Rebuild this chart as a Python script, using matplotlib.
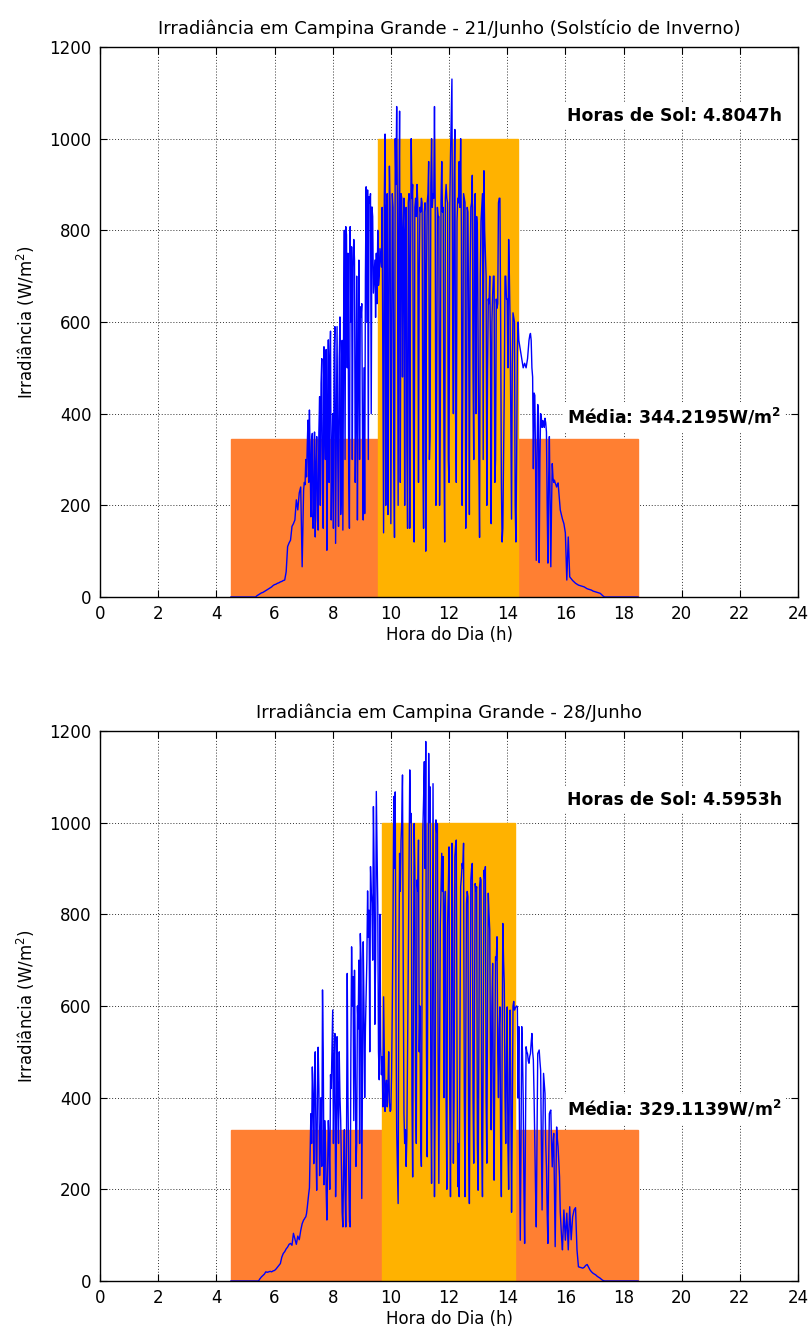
import numpy as np
import matplotlib
matplotlib.use("Agg")
import matplotlib.pyplot as plt
from matplotlib.patches import Rectangle

plt.rcParams['font.family'] = ['DejaVu Sans']

# Logger sampling blocks: (first hour, step in hours, number of samples)
blocos_amostragem = [(4.50, 0.05, 50), (7.00, 0.025, 361), (16.05, 0.05, 50)]

# Irradiance on 21/Jun (W/m^2): early block, daytime block, late block
irr_jun21 = [
    # 4.50 - 6.95 h
    0, 0, 0, 0, 0, 0, 0, 0, 0, 0, 0, 0, 0, 0, 0, 0, 0, 0,
    3, 5, 7, 9, 10, 12, 14, 16, 18, 20, 22, 25, 27, 28, 30, 31, 33, 34, 36, 37,
    55, 110, 118, 124, 154, 160, 168, 212, 190, 227, 240, 66,
    # 7.000 - 16.000 h
    234, 250, 245, 300, 262, 330, 386, 250, 408, 300, 175, 340, 357, 150, 200, 360, 131, 280, 350, 170,
    146, 360, 437, 200, 466, 520, 227, 150, 546, 380, 300, 540, 102, 400, 561, 250, 517, 580, 168, 300,
    400, 150, 531, 590, 117, 350, 590, 300, 154, 520, 611, 180, 240, 560, 146, 600, 800, 300, 808, 790,
    500, 750, 284, 150, 808, 600, 764, 300, 720, 780, 735, 250, 400, 700, 168, 500, 735, 300, 633, 610,
    640, 350, 168, 500, 182, 700, 895, 600, 888, 300, 873, 860, 880, 400, 851, 830, 663, 700, 735, 610,
    750, 640, 800, 680, 700, 760, 740, 720, 850, 500, 140, 870, 1010, 200, 850, 880, 180, 600, 940, 850,
    160, 500, 880, 850, 300, 130, 1000, 900, 1070, 850, 200, 800, 1060, 250, 880, 870, 480, 800, 870, 200,
    800, 850, 330, 150, 860, 880, 150, 700, 1000, 870, 900, 400, 120, 850, 870, 830, 900, 860, 250, 700,
    850, 840, 870, 860, 300, 150, 840, 860, 100, 700, 860, 880, 950, 300, 350, 900, 1000, 850, 880, 870,
    1070, 850, 200, 450, 850, 830, 830, 200, 400, 860, 950, 840, 850, 330, 120, 870, 900, 870, 860, 300,
    250, 850, 960, 1050, 1130, 600, 400, 900, 1020, 400, 250, 820, 870, 860, 950, 850, 1000, 800, 200, 500,
    880, 870, 860, 150, 330, 850, 840, 600, 180, 700, 850, 860, 920, 500, 300, 850, 880, 400, 830, 800,
    550, 300, 130, 700, 820, 850, 880, 300, 930, 800, 750, 700, 200, 500, 650, 640, 700, 550, 160, 600,
    660, 700, 700, 250, 300, 650, 630, 640, 860, 870, 870, 600, 250, 120, 150, 300, 450, 700, 700, 650,
    650, 500, 780, 700, 600, 400, 170, 500, 620, 610, 600, 200, 120, 300, 540, 600, 560, 550, 540, 530,
    520, 510, 500, 505, 510, 505, 500, 510, 520, 540, 560, 570, 575, 560, 500, 480, 280, 445, 440, 300,
    80, 300, 420, 400, 75, 300, 400, 390, 370, 385, 380, 370, 390, 380, 360, 200, 74, 250, 350, 200,
    66, 200, 291, 260, 250, 255, 249, 245, 240, 245, 249, 230, 210, 190, 183, 175, 170, 165, 160, 150,
    140,
    # 16.05 - 18.50 h
    37, 131, 44, 40, 36, 33, 30, 28, 26, 25, 24, 23, 22, 20, 18, 17, 16, 15, 13, 12,
    11, 10, 9, 8, 5, 2,
    0, 0, 0, 0, 0, 0, 0, 0, 0, 0, 0, 0, 0, 0, 0, 0, 0, 0, 0, 0, 0, 0, 0, 0,
]

# Irradiance on 28/Jun (W/m^2), same sampling blocks
irr_jun28 = [
    # 4.50 - 6.95 h
    0, 0, 0, 0, 0, 0, 0, 0, 0, 0, 0, 0, 0, 0, 0, 0, 0, 0, 0, 0,
    5, 9, 12, 15, 20, 19, 20, 21, 20, 22, 23, 26, 30, 34, 38, 52, 60, 64, 70, 74,
    80, 82, 78, 104, 92, 80, 98, 90, 110, 125,
    # 7.000 - 16.000 h
    133, 135, 138, 140, 147, 160, 176, 190, 203, 280, 365, 300, 467, 400, 256, 450, 500, 300, 198, 400,
    510, 420, 230, 300, 400, 250, 635, 500, 210, 350, 300, 200, 133, 250, 350, 300, 200, 450, 420, 500,
    591, 300, 480, 540, 184, 300, 533, 400, 300, 500, 402, 350, 250, 150, 118, 250, 330, 200, 118, 300,
    671, 400, 250, 130, 118, 500, 729, 600, 664, 350, 678, 500, 250, 300, 600, 550, 700, 300, 758, 700,
    180, 450, 740, 600, 400, 550, 627, 700, 851, 750, 809, 500, 904, 850, 824, 700, 1035, 900, 560, 700,
    1068, 950, 817, 500, 439, 800, 511, 450, 489, 380, 620, 500, 370, 420, 438, 380, 420, 500, 390, 370,
    373, 450, 598, 800, 1057, 900, 1067, 600, 330, 250, 169, 700, 933, 850, 962, 1000, 1104, 700, 366, 300,
    330, 250, 315, 500, 700, 900, 1115, 1000, 1020, 400, 227, 600, 998, 900, 402, 300, 875, 850, 962, 500,
    600, 300, 250, 700, 984, 1050, 1133, 900, 1177, 500, 271, 800, 1151, 1000, 1078, 400, 213, 600, 1085, 600,
    184, 400, 1006, 980, 998, 500, 213, 500, 773, 850, 933, 850, 926, 400, 788, 850, 400, 200, 773, 850,
    947, 400, 184, 500, 955, 800, 257, 400, 926, 950, 962, 500, 206, 300, 184, 500, 860, 880, 911, 900,
    955, 400, 184, 500, 824, 850, 838, 300, 169, 500, 875, 900, 911, 400, 257, 600, 867, 850, 860, 300,
    198, 500, 860, 880, 875, 300, 184, 500, 896, 880, 904, 400, 257, 600, 846, 800, 766, 500, 330, 600,
    693, 400, 220, 500, 707, 700, 751, 500, 400, 550, 598, 300, 184, 500, 780, 700, 649, 400, 300, 500,
    598, 300, 200, 450, 591, 400, 150, 350, 600, 610, 591, 595, 598, 600, 598, 400, 555, 300, 89, 300,
    555, 500, 400, 200, 82, 300, 511, 500, 496, 480, 475, 490, 496, 520, 540, 500, 482, 400, 300, 200,
    118, 300, 496, 500, 504, 480, 460, 300, 155, 300, 453, 430, 409, 300, 250, 150, 82, 250, 365, 370,
    373, 300, 249, 300, 322, 200, 75, 200, 336, 310, 293, 260, 227, 150, 120, 90, 68, 110, 155, 120,
    89,
    # 16.05 - 18.50 h
    148, 68, 162, 90, 140, 155, 160, 68, 31, 30, 29, 28, 30, 34, 36, 30, 24, 20, 17, 15,
    13, 10, 8, 6, 3, 1,
    0, 0, 0, 0, 0, 0, 0, 0, 0, 0, 0, 0, 0, 0, 0, 0, 0, 0, 0, 0, 0, 0, 0, 0,
]

titles = [
    "Irradiância em Campina Grande - 21/Junho (Solstício de Inverno)",
    "Irradiância em Campina Grande - 28/Junho",
]
series = [irr_jun21, irr_jun28]
media = [344.2195, 329.1139]          # daily mean over the window, W/m^2
horas_sol = [4.8047, 4.5953]          # peak sun hours
sol_inicio = [9.56, 9.69]             # start of the equivalent-sun block (h)
janela = (4.5, 18.5)                  # averaging window (h)
nivel_sol = 1000                      # standard irradiance, W/m^2

x_ticks = list(range(0, 25, 2))
y_ticks = list(range(0, 1201, 200))

cor_media = "#FF7F32"
cor_sol = "#FFB200"
cor_linha = "#0000FF"

horas = np.concatenate([h0 + dh * np.arange(n) for h0, dh, n in blocos_amostragem])

fig = plt.figure(figsize=(8.1, 13.38), dpi=100)
axes_rects = [
    [0.1235, 0.5538, 0.8617, 0.4111],
    [0.1235, 0.0426, 0.8617, 0.4111],
]

for k in range(2):
    ax = fig.add_axes(axes_rects[k])
    vals = np.array(series[k], dtype=float)

    ax.set_axisbelow(True)
    ax.grid(True, color="#333333", linestyle=(0, (1, 2)), linewidth=0.7)

    ax.add_patch(Rectangle((janela[0], 0), janela[1] - janela[0], media[k],
                           facecolor=cor_media, edgecolor=cor_media,
                           linewidth=1.0, zorder=1))
    ax.add_patch(Rectangle((sol_inicio[k], 0), horas_sol[k], nivel_sol,
                           facecolor=cor_sol, edgecolor=cor_sol,
                           linewidth=1.0, zorder=1.1))
    ax.plot(horas, vals, color=cor_linha, linewidth=1.0, zorder=2)

    ax.set_xlim(0, 24)
    ax.set_ylim(0, 1200)
    ax.set_xticks(x_ticks)
    ax.set_yticks(y_ticks)
    ax.tick_params(direction="in", top=True, right=True, length=5,
                   width=0.8, labelsize=12, pad=6)
    for s in ax.spines.values():
        s.set_linewidth(1.0)

    ax.set_title(titles[k], fontsize=13, pad=9)
    ax.set_xlabel("Hora do Dia (h)", fontsize=12, labelpad=2)
    ax.set_ylabel("Irradiância (W/m$^2$)", fontsize=12, labelpad=9)

    caixa = dict(facecolor="white", edgecolor="none", pad=3)
    ax.text(16.05, 1050, f"Horas de Sol: {horas_sol[k]:.4f}h",
            fontsize=12.4, fontweight="bold", va="center", ha="left",
            bbox=caixa, zorder=3)
    ax.text(16.05, media[k] * 1.14,
            f"Média: {media[k]:.4f}W/m" + r"$^\mathbf{2}$",
            fontsize=12.4, fontweight="bold", va="center", ha="left",
            bbox=caixa, zorder=3)

fig.savefig("out.png", dpi=100)
